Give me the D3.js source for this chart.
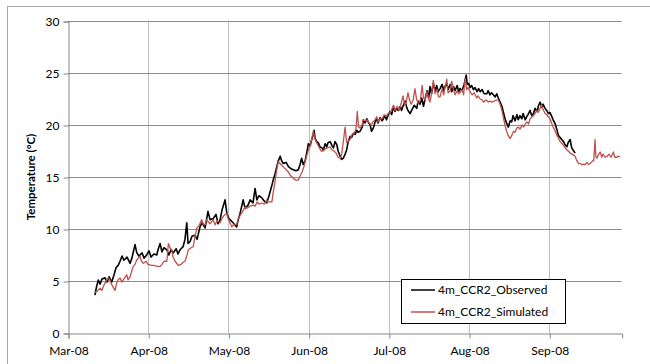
<!DOCTYPE html>
<html><head><meta charset="utf-8">
<script src="https://cdn.jsdelivr.net/npm/d3@7"></script>
<style>
html,body{margin:0;padding:0;background:#fff;}
svg{display:block;}
text{font-family:Lato, "Open Sans", sans-serif;}
</style></head>
<body><svg id="chart" width="650" height="364"></svg>
<script>
// Data: days after 2008-03-01 and temperature (°C)
const obsDays = [10.4,11.0,11.7,12.4,13.1,14.3,15.1,15.9,16.9,17.8,18.6,19.4,20.1,20.9,21.6,22.8,24.0,24.7,25.9,26.6,27.4,28.6,29.4,30.4,31.3,32.1,33.2,34.3,34.8,35.6,36.3,37.1,38.2,39.0,39.8,40.7,41.8,42.5,43.3,44.5,45.2,45.9,46.4,47.2,47.9,49.1,49.9,51.0,51.8,53.0,54.1,54.9,56.1,57.2,58.0,58.8,59.5,60.7,61.4,62.2,63.0,63.8,65.2,65.7,66.5,67.7,68.4,69.6,70.4,71.5,72.3,73.0,73.8,74.9,75.8,76.8,77.7,78.8,79.3,80.0,80.7,81.2,82.0,82.5,83.2,84.3,85.2,86.2,87.1,88.1,89.0,89.7,90.3,90.9,91.6,92.4,92.9,93.6,94.2,94.7,95.1,95.5,96.1,96.7,97.4,98.2,98.7,99.4,100.0,100.5,101.3,102.1,102.6,103.2,103.9,104.4,105.2,105.7,106.4,107.1,107.7,108.2,109.0,109.6,110.3,111.0,111.6,112.1,112.9,113.7,114.2,114.8,115.5,116.0,116.8,117.3,118.0,118.7,119.3,119.8,120.6,121.4,121.9,122.5,123.1,123.8,124.5,125.1,125.8,126.4,127.0,127.7,128.4,128.9,129.6,130.3,130.9,131.4,132.2,133.0,133.8,134.8,135.3,136.1,136.7,137.4,138.0,138.8,139.4,139.9,140.5,141.2,141.9,142.5,143.0,143.8,144.6,145.2,145.7,146.4,146.9,147.7,148.3,149.0,149.6,150.4,151.0,151.5,152.3,153.1,153.9,154.3,154.8,155.4,156.0,156.7,157.3,158.1,158.7,159.3,160.1,160.8,161.9,162.4,163.1,163.7,164.4,165.1,165.7,166.3,167.0,167.7,168.2,168.9,169.5,170.2,170.9,171.5,172.0,172.8,173.5,174.0,174.7,175.4,175.9,176.7,177.3,177.8,178.6,179.2,179.9,180.5,181.3,181.9,182.5,183.1,183.6,184.4,185.0,185.7,186.3,187.0,187.5,188.3,188.9,189.5,190.2,190.8,191.5,192.1,192.8,193.3,194.1,194.5,194.7,195.2,196.0];
const obsTemp = [3.65,4.4,5.1,4.7,5.2,5.3,4.9,5.4,4.9,5.6,6.3,6.5,6.9,7.4,7.0,7.3,6.7,7.2,8.5,7.7,7.4,7.7,7.2,7.5,7.9,7.3,7.6,7.5,8.0,8.6,7.8,8.2,8.0,7.5,8.0,7.7,8.1,7.6,8.0,8.3,9.0,10.6,8.6,8.8,9.3,9.4,9.0,10.2,10.6,10.1,11.7,10.9,11.0,11.4,10.5,10.9,11.8,12.8,11.5,11.0,10.8,10.6,10.2,10.8,11.5,12.8,12.0,12.3,12.8,12.5,13.9,12.8,13.2,13.0,12.7,12.5,13.2,14.2,14.7,15.3,16.0,16.5,17.0,16.6,16.3,16.4,16.0,15.8,15.7,15.6,15.7,16.2,16.8,16.2,16.5,17.5,18.2,18.0,18.6,19.0,19.5,18.7,18.4,18.3,17.9,17.8,17.6,18.2,17.9,18.3,18.4,18.0,17.8,18.4,18.1,17.5,17.0,16.7,16.8,17.2,17.6,18.3,18.9,18.8,19.2,19.1,19.5,19.3,19.4,19.8,20.5,20.2,20.6,20.3,20.0,19.4,19.7,20.3,20.6,20.2,20.7,20.4,20.6,20.9,20.5,21.0,21.3,21.0,21.8,21.3,21.6,21.4,21.8,21.4,21.9,22.3,21.7,21.4,21.1,21.5,21.9,21.6,22.3,22.0,22.6,21.8,22.5,23.3,22.6,23.7,23.0,24.0,23.3,23.8,23.2,23.5,23.9,23.3,23.7,24.0,23.4,23.9,23.2,23.7,23.3,23.8,23.2,23.5,23.3,23.9,24.8,23.9,24.0,23.6,23.8,23.4,23.6,23.2,23.5,23.2,23.4,23.0,23.0,23.3,22.9,23.1,22.9,22.7,23.0,22.6,22.2,21.8,21.3,20.6,20.2,19.8,20.4,20.3,20.9,20.4,21.0,20.5,20.9,20.6,21.1,20.5,20.8,21.0,21.4,20.9,21.1,21.6,21.3,21.9,22.2,21.7,22.0,21.6,21.4,21.1,21.2,20.8,20.5,20.1,19.6,19.0,18.8,18.6,18.4,18.1,17.9,18.3,18.6,18.0,17.8,17.6,17.3];
const simDays = [10.4,11.2,12.4,13.1,13.9,15.0,15.5,16.2,17.0,18.2,18.7,19.3,20.1,20.8,21.6,22.7,23.2,24.0,24.7,25.2,25.9,26.5,27.2,27.8,28.4,29.1,30.2,30.9,32.4,33.2,34.4,35.6,36.3,37.1,38.2,38.8,39.4,40.1,40.6,41.4,42.6,43.7,44.5,45.2,45.9,46.5,47.6,48.4,49.1,49.8,50.6,51.7,52.2,53.0,53.5,54.2,54.9,56.1,56.8,57.6,58.8,59.5,60.3,61.4,61.9,62.6,63.3,64.2,65.2,65.7,66.5,67.3,68.4,69.2,70.4,71.5,72.3,73.1,73.8,75.0,75.8,76.8,77.3,78.8,79.3,80.0,80.6,81.3,82.0,82.7,83.5,84.3,85.1,85.8,86.6,87.4,88.1,89.0,89.7,90.5,91.2,92.0,92.8,93.6,94.1,94.8,95.5,96.3,97.0,97.8,98.6,99.4,100.1,101.3,102.1,102.8,103.6,104.4,105.2,105.7,106.3,107.1,107.7,108.2,109.0,109.8,110.6,111.3,111.8,112.3,112.9,113.7,114.0,114.8,115.6,116.4,117.1,117.9,118.7,119.3,119.8,120.6,121.4,122.2,122.9,123.7,124.5,125.3,125.8,126.4,127.2,128.0,128.7,129.5,130.1,130.7,131.4,132.0,132.6,133.4,134.1,134.7,135.3,136.1,136.9,137.4,138.0,138.8,139.4,139.9,140.5,141.2,141.9,142.7,143.2,143.8,144.6,145.2,145.7,146.4,146.9,147.7,148.3,149.0,149.6,150.4,151.0,151.5,152.3,152.9,153.5,154.1,154.6,155.4,156.2,157.0,158.0,158.5,159.3,160.1,160.6,161.6,162.4,163.1,163.8,164.7,165.5,166.3,167.0,167.7,168.2,168.9,169.5,170.1,170.9,171.5,172.2,172.8,173.4,174.1,174.7,175.5,176.1,176.7,177.4,178.0,178.6,179.4,180.2,181.2,181.7,182.5,183.1,183.6,184.4,185.0,185.6,186.3,186.9,187.5,188.3,189.0,189.6,190.2,191.0,191.6,192.1,192.9,194.1,194.8,196.0,196.6,197.3,197.9,198.5,199.2,199.9,200.6,201.2,201.8,202.6,203.2,203.7,204.0,204.4,204.9,205.7,206.3,206.8,207.6,208.4,209.1,209.9,210.8,211.3,212.1,212.6,213.4,214.0];
const simTemp = [3.9,4.0,4.3,4.1,4.6,5.1,5.3,5.1,4.6,4.1,4.7,5.1,5.3,4.9,5.2,5.6,5.1,5.4,6.0,6.4,6.6,7.0,7.2,7.4,6.9,6.7,6.9,6.6,6.5,6.5,6.4,6.4,6.6,6.9,6.9,8.6,8.2,8.0,7.3,6.9,6.5,6.6,6.8,6.9,7.4,8.0,8.2,8.3,9.3,10.1,10.3,10.9,10.5,10.4,10.9,10.7,10.5,10.9,10.4,10.8,10.6,11.0,11.3,11.5,11.0,10.6,10.2,10.5,10.4,10.9,11.3,11.6,12.1,12.0,12.2,12.3,12.2,12.6,12.4,12.5,12.4,12.8,12.6,12.6,13.5,14.5,15.6,16.5,16.3,16.1,15.9,15.7,15.5,15.2,15.0,14.8,14.7,14.7,15.1,15.5,16.0,16.8,17.5,18.0,18.6,19.4,18.6,18.2,17.9,17.5,17.5,17.7,17.8,17.9,17.6,17.5,17.3,16.9,16.8,17.1,18.2,19.8,18.3,18.4,18.6,19.1,19.2,19.6,21.3,19.8,19.7,20.0,20.5,20.4,20.5,20.2,20.0,20.3,20.5,20.8,20.3,20.6,20.6,21.0,20.8,21.1,21.2,21.6,21.9,21.4,21.8,21.4,22.0,22.8,21.9,22.2,23.1,22.4,22.0,22.4,23.5,22.5,22.1,22.3,23.8,22.6,22.4,23.2,22.5,22.2,23.0,24.3,23.0,23.4,22.7,22.7,23.5,22.9,23.6,24.4,23.1,23.3,24.2,23.4,22.9,23.3,23.0,23.1,23.4,22.9,24.5,23.4,23.6,23.2,22.9,23.1,22.6,22.8,22.5,22.4,22.2,22.4,22.2,22.3,22.2,22.3,22.4,22.4,22.0,21.4,20.8,20.0,19.4,19.0,18.7,19.0,19.4,19.3,19.7,19.8,19.6,20.0,19.8,20.1,20.3,20.1,20.6,20.8,21.0,21.4,21.2,21.6,21.9,21.5,21.1,21.0,20.8,20.6,20.2,19.8,19.4,19.0,18.7,18.4,18.2,18.0,17.8,17.6,17.3,17.2,17.0,16.6,16.3,16.3,16.2,16.2,16.2,16.4,16.2,16.3,16.5,16.6,18.6,17.0,16.8,17.1,17.4,16.9,17.2,16.9,17.0,17.2,16.9,17.4,16.9,16.9,17.0,16.9];
const yTicks = [0,5,10,15,20,25,30];
const seriesNames = ["4m_CCR2_Observed","4m_CCR2_Simulated"];
const seriesColors = ["#000000","#c0504d"];

const start = new Date(2008,2,1);
const toDate = d => new Date(start.getTime() + d*86400000);
const xTicks = d3.range(0,7).map(k => toDate(k*31));

const svg = d3.select("#chart");
const L = 68, R = 621.7, T = 21, B = 333;
const x = d3.scaleTime().domain([start, new Date(2008,9,1)]).range([L,R]);
const y = d3.scaleLinear().domain([0,30]).range([B,T]);

// outer chart border
svg.append("rect").attr("x",7.5).attr("y",6.5).attr("width",700).attr("height",400)
  .attr("fill","#fff").attr("stroke","#a6a6a6").attr("stroke-width",1);

// gridlines
svg.append("g").selectAll("line").data(xTicks.slice(1)).join("line")
  .attr("x1",d=>Math.round(x(d))+0.5).attr("x2",d=>Math.round(x(d))+0.5)
  .attr("y1",T).attr("y2",B).attr("stroke","#bfbfbf").attr("stroke-width",1);
svg.append("g").selectAll("line").data(yTicks.slice(1)).join("line")
  .attr("x1",L).attr("x2",R).attr("y1",d=>Math.round(y(d))+0.5).attr("y2",d=>Math.round(y(d))+0.5)
  .attr("stroke","#8c8c8c").attr("stroke-width",1);

// axes
const yAxis = d3.axisLeft(y).tickValues(yTicks).tickSize(5).tickPadding(4).tickFormat(d3.format("d"));
const gy = svg.append("g").attr("transform",`translate(${L+0.5},0.5)`).call(yAxis);
const xAxis = d3.axisBottom(x).tickValues(xTicks).tickSize(5).tickPadding(8).tickFormat(d3.timeFormat("%b-%y"));
const gx = svg.append("g").attr("transform",`translate(0.5,${B+0.5})`).call(xAxis);
[gx,gy].forEach(g=>{
  g.select(".domain").attr("stroke","#868686");
  g.selectAll(".tick line").attr("stroke","#868686");
  g.selectAll("text").attr("font-size",12).attr("fill","#000").attr("font-family","Lato, sans-serif");
});

svg.append("text").attr("transform","translate(35,177) rotate(-90)")
  .attr("text-anchor","middle").attr("font-size",11.5).attr("font-weight","bold")
  .text("Temperature (°C)");

const line = d3.line().x(d=>x(d[0])).y(d=>y(d[1]));
const obs = obsDays.map((d,i)=>[toDate(d),obsTemp[i]]);
const sim = simDays.map((d,i)=>[toDate(d),simTemp[i]]);
svg.append("path").datum(obs).attr("d",line).attr("fill","none")
  .attr("stroke",seriesColors[0]).attr("stroke-width",1.6).attr("stroke-linejoin","round");
svg.append("path").datum(sim).attr("d",line).attr("fill","none")
  .attr("stroke",seriesColors[1]).attr("stroke-width",1.3).attr("stroke-linejoin","round");

// legend
const lg = svg.append("g");
lg.append("rect").attr("x",401.5).attr("y",279.5).attr("width",164).attr("height",44)
  .attr("fill","#fff").attr("stroke","#000").attr("stroke-width",1);
seriesNames.forEach((n,i)=>{
  const yy = 290 + i*22;
  lg.append("line").attr("x1",411).attr("x2",435).attr("y1",yy).attr("y2",yy)
    .attr("stroke",seriesColors[i]).attr("stroke-width",1.5);
  lg.append("text").attr("x",438).attr("y",yy).attr("dy","0.35em").attr("font-size",12).text(n);
});
</script></body></html>
